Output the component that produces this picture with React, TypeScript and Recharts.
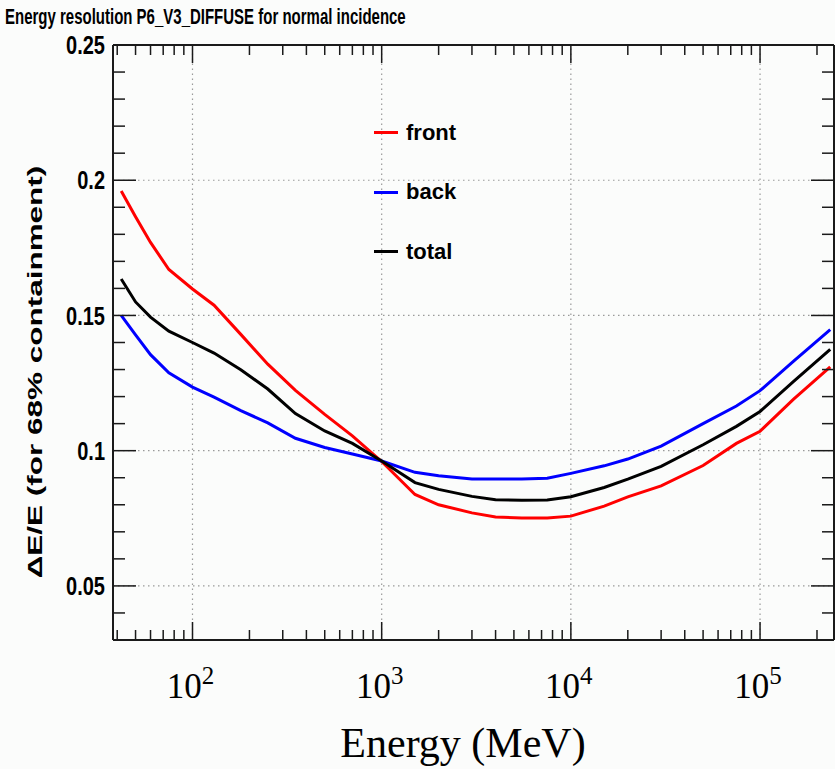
import { LineChart, Line, XAxis, YAxis, ReferenceLine, Legend } from 'recharts';

// energies in MeV
const energies = [42, 50, 60, 75, 100, 130, 180, 250, 350, 500, 700, 1000, 1500, 2000, 3000, 4000, 5500, 7500, 10000, 15000, 20000, 30000, 50000, 75000, 100000, 150000, 235000];
const front = [0.196, 0.1865, 0.177, 0.167, 0.1598, 0.1538, 0.143, 0.132, 0.1223, 0.1134, 0.1055, 0.096, 0.0838, 0.08, 0.077, 0.0755, 0.0751, 0.0751, 0.0758, 0.0795, 0.0829, 0.087, 0.0945, 0.1027, 0.1072, 0.119, 0.131];
const back = [0.15, 0.1428, 0.1355, 0.1288, 0.1235, 0.1198, 0.1148, 0.1103, 0.1046, 0.1012, 0.0988, 0.0962, 0.092, 0.0907, 0.0895, 0.0895, 0.0895, 0.0898, 0.0916, 0.0944, 0.0969, 0.1017, 0.11, 0.1165, 0.1222, 0.133, 0.1448];
const total = [0.1635, 0.155, 0.1494, 0.1442, 0.14, 0.1361, 0.1299, 0.1228, 0.1137, 0.1073, 0.1027, 0.0962, 0.0882, 0.0857, 0.0831, 0.0819, 0.0817, 0.0818, 0.083, 0.0864, 0.0895, 0.0942, 0.1022, 0.109, 0.1145, 0.1255, 0.1375];

const xMajorTicks = [100, 1000, 10000, 100000];
const xMinorTicks = [40, 50, 60, 70, 80, 90, 200, 300, 400, 500, 600, 700, 800, 900, 2000, 3000, 4000, 5000, 6000, 7000, 8000, 9000, 20000, 30000, 40000, 50000, 60000, 70000, 80000, 90000, 200000];
const xExponents = ['2', '3', '4', '5'];
const yMajorTicks = [0.05, 0.1, 0.15, 0.2, 0.25];
const yMinorTicks = [0.04, 0.06, 0.07, 0.08, 0.09, 0.11, 0.12, 0.13, 0.14, 0.16, 0.17, 0.18, 0.19, 0.21, 0.22, 0.23, 0.24];
const yTickLabels = ['0.05', '0.1', '0.15', '0.2', '0.25'];
const xGrid = [100, 1000, 10000, 100000];
const yGrid = [0.05, 0.1, 0.15, 0.2];

const series = [
  { key: 'front', label: 'front', color: '#ff0000' },
  { key: 'back', label: 'back', color: '#0000ff' },
  { key: 'total', label: 'total', color: '#000000' },
];

const data = energies.map((e, i) => ({ energy: e, front: front[i], back: back[i], total: total[i] }));

const X_DOMAIN = [38, 246000];
const Y_DOMAIN = [0.03, 0.25];
const FRAME = '#1a1a1a';
const SANS = '"Liberation Sans", Arial, Helvetica, sans-serif';
const SERIF = '"Liberation Serif", "Times New Roman", serif';

function XTick(props: any) {
  const { x, y, payload, side } = props;
  const idx = xMajorTicks.indexOf(payload.value);
  const len = idx >= 0 ? 18 : 10;
  const dir = side === 'bottom' ? -1 : 1;
  return (
    <g>
      <line x1={x} y1={y} x2={x} y2={y + dir * len} stroke={FRAME} strokeWidth={1.5} />
      {side === 'bottom' && idx >= 0 && (
        <text x={x - 2} y={y + 58} textAnchor="middle" fontFamily={SERIF} fontSize={35} fill="#000">
          10
          <tspan dy={-14} fontSize={25}>
            {xExponents[idx]}
          </tspan>
        </text>
      )}
    </g>
  );
}

function YTick(props: any) {
  const { x, y, payload, side } = props;
  const idx = yMajorTicks.indexOf(payload.value);
  const len = idx >= 0 ? 23 : 12;
  const dir = side === 'left' ? 1 : -1;
  return (
    <g>
      <line x1={x} y1={y} x2={x + dir * len} y2={y} stroke={FRAME} strokeWidth={1.5} />
      {side === 'left' && idx >= 0 && (
        <text
          transform={`translate(${x - 8},${y}) scale(1,1.3)`}
          x={0}
          y={7}
          textAnchor="end"
          fontFamily={SANS}
          fontWeight="bold"
          fontSize={20}
          fill="#000"
        >
          {yTickLabels[idx]}
        </text>
      )}
    </g>
  );
}

function LegendBox(props: any) {
  const order = series.map((s) => s.label);
  const items = [...(props.payload || [])].sort((a: any, b: any) => order.indexOf(a.value) - order.indexOf(b.value));
  return (
    <div style={{ fontFamily: SANS, fontWeight: 'bold', fontSize: 22, color: '#000' }}>
      {items.map((p: any) => (
        <div key={p.value} style={{ display: 'flex', alignItems: 'center', height: 59.5 }}>
          <span style={{ display: 'inline-block', width: 24, height: 3, background: p.color, marginRight: 8 }} />
          <span>{p.value}</span>
        </div>
      ))}
    </div>
  );
}

export default function App() {
  const xTicks = [...xMinorTicks, ...xMajorTicks].sort((a, b) => a - b);
  const yTicks = [...yMinorTicks, ...yMajorTicks].sort((a, b) => a - b);
  return (
    <div style={{ position: 'absolute', left: 0, top: 0, width: 835, height: 769, background: '#fbfcfb' }}>
      <LineChart width={835} height={769} data={data} margin={{ top: 44, right: 0, bottom: 0, left: 0 }}>
        <XAxis
          dataKey="energy"
          type="number"
          scale="log"
          domain={X_DOMAIN}
          allowDataOverflow
          ticks={xTicks}
          interval={0}
          height={129}
          tickSize={0}
          tickMargin={0}
          tickLine={false}
          axisLine={{ stroke: FRAME, strokeWidth: 2 }}
          tick={(p: any) => <XTick {...p} side="bottom" />}
        />
        <XAxis
          xAxisId="top"
          orientation="top"
          dataKey="energy"
          type="number"
          scale="log"
          domain={X_DOMAIN}
          allowDataOverflow
          ticks={xTicks}
          interval={0}
          height={1}
          tickSize={0}
          tickMargin={0}
          tickLine={false}
          axisLine={{ stroke: FRAME, strokeWidth: 2 }}
          tick={(p: any) => <XTick {...p} side="top" />}
        />
        <YAxis
          type="number"
          domain={Y_DOMAIN}
          allowDataOverflow
          ticks={yTicks}
          interval={0}
          width={113}
          tickSize={0}
          tickMargin={0}
          tickLine={false}
          axisLine={{ stroke: FRAME, strokeWidth: 2 }}
          tick={(p: any) => <YTick {...p} side="left" />}
        />
        <YAxis
          yAxisId="right"
          orientation="right"
          type="number"
          domain={Y_DOMAIN}
          allowDataOverflow
          ticks={yTicks}
          interval={0}
          width={1}
          tickSize={0}
          tickMargin={0}
          tickLine={false}
          axisLine={{ stroke: FRAME, strokeWidth: 2 }}
          tick={(p: any) => <YTick {...p} side="right" />}
        />
        {xGrid.map((v) => (
          <ReferenceLine key={`gx${v}`} x={v} stroke="#9a9a9a" strokeWidth={1.2} strokeDasharray="1.5 3.5" />
        ))}
        {yGrid.map((v) => (
          <ReferenceLine key={`gy${v}`} y={v} stroke="#9a9a9a" strokeWidth={1.2} strokeDasharray="1.5 3.5" />
        ))}
        <Legend
          layout="vertical"
          align="center"
          verticalAlign="middle"
          content={LegendBox}
          wrapperStyle={{ left: 374, top: 103, width: 140, height: 180 }}
        />
        {series.map((s) => (
          <Line
            key={s.key}
            type="linear"
            dataKey={s.key}
            name={s.label}
            stroke={s.color}
            strokeWidth={3}
            dot={false}
            activeDot={false}
            isAnimationActive={false}
          />
        ))}
      </LineChart>
      <svg width={835} height={769} style={{ position: 'absolute', left: 0, top: 0, pointerEvents: 'none' }}>
        <text
          transform="translate(5,24) scale(1,1.45)"
          fontFamily={SANS}
          fontWeight="bold"
          fontSize={15}
          fill="#000"
        >
          Energy resolution P6_V3_DIFFUSE for normal incidence
        </text>
        <text
          transform="translate(42,372) rotate(-90) scale(1.5,1)"
          textAnchor="middle"
          fontFamily={SANS}
          fontWeight="bold"
          fontSize={21}
          fill="#000"
        >
          ΔE/E (for 68% containment)
        </text>
        <text x={463} y={757} textAnchor="middle" fontFamily={SERIF} fontSize={42} fill="#000">
          Energy (MeV)
        </text>
      </svg>
    </div>
  );
}
